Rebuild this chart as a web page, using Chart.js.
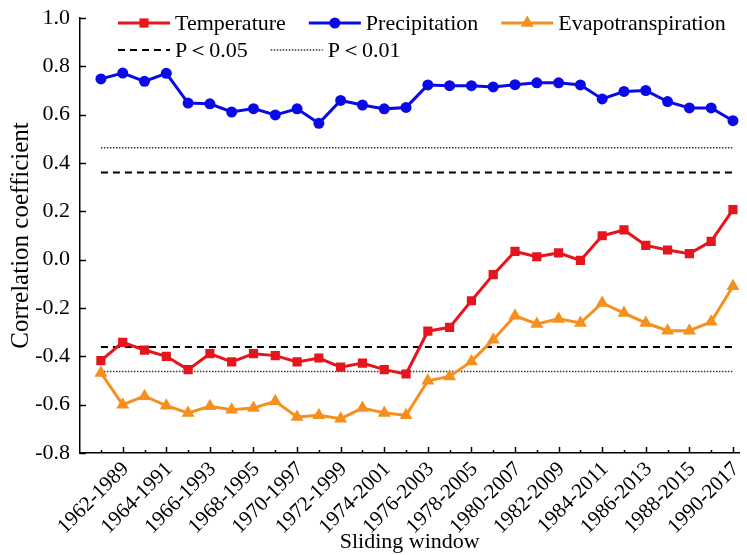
<!DOCTYPE html>
<html>
<head>
<meta charset="utf-8">
<script src="https://cdn.jsdelivr.net/npm/chart.js@4.4.1/dist/chart.umd.min.js"></script>
<style>
  html, body { margin: 0; padding: 0; background: #fff; }
  #wrap { width: 747px; height: 555px; }
</style>
</head>
<body>
<div id="wrap"><canvas id="lineChart"></canvas></div>
<script>
// 28-year sliding windows
var windows = [
  '1961-1988', '1962-1989', '1963-1990', '1964-1991', '1965-1992', '1966-1993',
  '1967-1994', '1968-1995', '1969-1996', '1970-1997', '1971-1998', '1972-1999',
  '1973-2000', '1974-2001', '1975-2002', '1976-2003', '1977-2004', '1978-2005',
  '1979-2006', '1980-2007', '1981-2008', '1982-2009', '1983-2010', '1984-2011',
  '1985-2012', '1986-2013', '1987-2014', '1988-2015', '1989-2016', '1990-2017'
];

var temperature = [
  -0.418, -0.342, -0.374, -0.400, -0.455, -0.389, -0.423, -0.389, -0.397, -0.423,
  -0.407, -0.445, -0.428, -0.455, -0.473, -0.296, -0.280, -0.170, -0.062, 0.034,
  0.012, 0.028, -0.003, 0.099, 0.123, 0.059, 0.040, 0.025, 0.076, 0.207
];
var precipitation = [
  0.748, 0.772, 0.738, 0.771, 0.648, 0.645, 0.611, 0.625, 0.599, 0.624,
  0.564, 0.659, 0.640, 0.624, 0.630, 0.723, 0.720, 0.720, 0.715, 0.724,
  0.732, 0.732, 0.723, 0.665, 0.696, 0.700, 0.654, 0.628, 0.628, 0.575
];
var evapotranspiration = [
  -0.469, -0.600, -0.565, -0.604, -0.634, -0.607, -0.621, -0.614, -0.586, -0.651,
  -0.644, -0.658, -0.614, -0.634, -0.644, -0.501, -0.483, -0.421, -0.331, -0.232,
  -0.266, -0.245, -0.262, -0.179, -0.221, -0.262, -0.294, -0.294, -0.257, -0.110
];

// significance thresholds (critical r)
var p05 = 0.361;
var p01 = 0.463;

var yTicks = [-0.8, -0.6, -0.4, -0.2, 0.0, 0.2, 0.4, 0.6, 0.8, 1.0];

var serif = "'Liberation Serif', 'Times New Roman', serif";
Chart.defaults.font.family = serif;
Chart.defaults.color = '#000';

function xy(values) {
  return values.map(function (v, i) { return { x: i, y: v }; });
}
function flat(v) {
  return windows.map(function (w, i) { return { x: i, y: v }; });
}

// draw tick marks pointing into the plot
var innerTicks = {
  id: 'innerTicks',
  afterDraw: function (chart) {
    var ctx = chart.ctx;
    var xs = chart.scales.x, ys = chart.scales.y;
    var a = chart.chartArea;
    ctx.save();
    ctx.strokeStyle = '#000';
    ctx.lineWidth = 1.5;
    ctx.beginPath();
    windows.forEach(function (w, i) {
      var px = Math.round(xs.getPixelForValue(i)) + 0.5;
      var len = (i % 2 === 1) ? 6 : 3;
      ctx.moveTo(px, a.bottom);
      ctx.lineTo(px, a.bottom - len);
    });
    yTicks.forEach(function (v) {
      var py = Math.round(ys.getPixelForValue(v)) + 0.5;
      ctx.moveTo(a.left, py);
      ctx.lineTo(a.left + 6, py);
    });
    ctx.stroke();
    ctx.restore();
  }
};

function drawMarker(ctx, style, r, cx, cy) {
  ctx.beginPath();
  if (style === 'rect') {
    var s = r * Math.SQRT2;
    ctx.rect(cx - s / 2, cy - s / 2, s, s);
  } else if (style === 'triangle') {
    ctx.moveTo(cx, cy - r);
    ctx.lineTo(cx + r * Math.sin(Math.PI / 3), cy + r / 2);
    ctx.lineTo(cx - r * Math.sin(Math.PI / 3), cy + r / 2);
    ctx.closePath();
  } else {
    ctx.arc(cx, cy, r, 0, Math.PI * 2);
  }
  ctx.fill();
}

// legend: line sample with marker, two rows
var sampleLegend = {
  id: 'sampleLegend',
  afterDraw: function (chart) {
    var ctx = chart.ctx;
    var rows = [[0, 1, 2], [3, 5]];
    var rowY = [23, 50];
    ctx.save();
    ctx.font = '22px ' + serif;
    ctx.textBaseline = 'middle';
    rows.forEach(function (row, ri) {
      var x = 118;
      var y = rowY[ri];
      row.forEach(function (di) {
        var ds = chart.data.datasets[di];
        ctx.strokeStyle = ds.borderColor;
        ctx.lineWidth = ds.borderWidth;
        ctx.setLineDash(ds.borderDash || []);
        ctx.beginPath();
        ctx.moveTo(x, y);
        ctx.lineTo(x + 52, y);
        ctx.stroke();
        ctx.setLineDash([]);
        if (ds.pointRadius > 0) {
          ctx.fillStyle = ds.pointBackgroundColor;
          drawMarker(ctx, ds.pointStyle, ds.pointRadius, x + 26, y);
        }
        ctx.fillStyle = '#000';
        ctx.fillText(ds.label, x + 57, y + 1);
        x += 57 + ctx.measureText(ds.label).width + 23;
      });
    });
    ctx.restore();
  }
};

var ctx = document.getElementById('lineChart').getContext('2d');
var chart = new Chart(ctx, {
  type: 'line',
  data: {
    datasets: [
      {
        label: 'Temperature', data: xy(temperature),
        borderColor: '#e6141c', backgroundColor: '#e6141c', pointBackgroundColor: '#e6141c',
        borderWidth: 3, pointStyle: 'rect', pointRadius: 6.5, pointBorderWidth: 0
      },
      {
        label: 'Precipitation', data: xy(precipitation),
        borderColor: '#0a0ae6', backgroundColor: '#0a0ae6', pointBackgroundColor: '#0a0ae6',
        borderWidth: 3, pointStyle: 'circle', pointRadius: 5.5, pointBorderWidth: 0
      },
      {
        label: 'Evapotranspiration', data: xy(evapotranspiration),
        borderColor: '#f5901e', backgroundColor: '#f5901e', pointBackgroundColor: '#f5901e',
        borderWidth: 3, pointStyle: 'triangle', pointRadius: 7.5, pointBorderWidth: 0
      },
      {
        label: 'P\uFF1C0.05', data: flat(p05),
        borderColor: '#000', borderWidth: 2, borderDash: [7, 5], pointRadius: 0
      },
      {
        label: 'P\uFF1C0.05', data: flat(-p05),
        borderColor: '#000', borderWidth: 2, borderDash: [7, 5], pointRadius: 0
      },
      {
        label: 'P\uFF1C0.01', data: flat(p01),
        borderColor: '#333', borderWidth: 1.5, borderDash: [1.5, 1.5], pointRadius: 0
      },
      {
        label: 'P\uFF1C0.01', data: flat(-p01),
        borderColor: '#333', borderWidth: 1.5, borderDash: [1.5, 1.5], pointRadius: 0
      }
    ]
  },
  options: {
    responsive: true,
    maintainAspectRatio: false,
    animation: false,
    layout: { padding: { top: 18, right: 6, left: 0, bottom: 0 } },
    plugins: {
      legend: { display: false },
      tooltip: { enabled: false }
    },
    scales: {
      x: {
        type: 'linear',
        min: -0.96,
        max: 29.3,
        afterBuildTicks: function (scale) {
          scale.ticks = windows.map(function (w, i) { return { value: i }; });
        },
        afterFit: function (scale) {
          scale.height = 102;
          scale.paddingLeft = 0;
          scale.paddingRight = 0;
        },
        grid: { display: false },
        border: { color: '#000', width: 1.5 },
        ticks: {
          autoSkip: false,
          minRotation: 45,
          maxRotation: 45,
          padding: -4,
          labelOffset: 3,
          font: { size: 21 },
          callback: function (v) { return (v % 2 === 1) ? windows[v] : ''; }
        },
        title: {
          display: true, text: 'Sliding window',
          font: { size: 22 }, padding: { top: 0, bottom: 0 }
        }
      },
      y: {
        min: -0.8,
        max: 1.0,
        afterBuildTicks: function (scale) {
          scale.ticks = yTicks.map(function (v) { return { value: v }; });
        },
        afterFit: function (scale) { scale.width = 80; },
        grid: { display: false },
        border: { color: '#000', width: 1.5 },
        ticks: {
          padding: 2,
          font: { size: 22 },
          callback: function (v) { return v.toFixed(1); }
        },
        title: {
          display: true, text: 'Correlation coefficient',
          font: { size: 25 }, padding: { top: 6, bottom: 0 }
        }
      }
    }
  },
  plugins: [innerTicks, sampleLegend]
});
</script>
</body>
</html>
